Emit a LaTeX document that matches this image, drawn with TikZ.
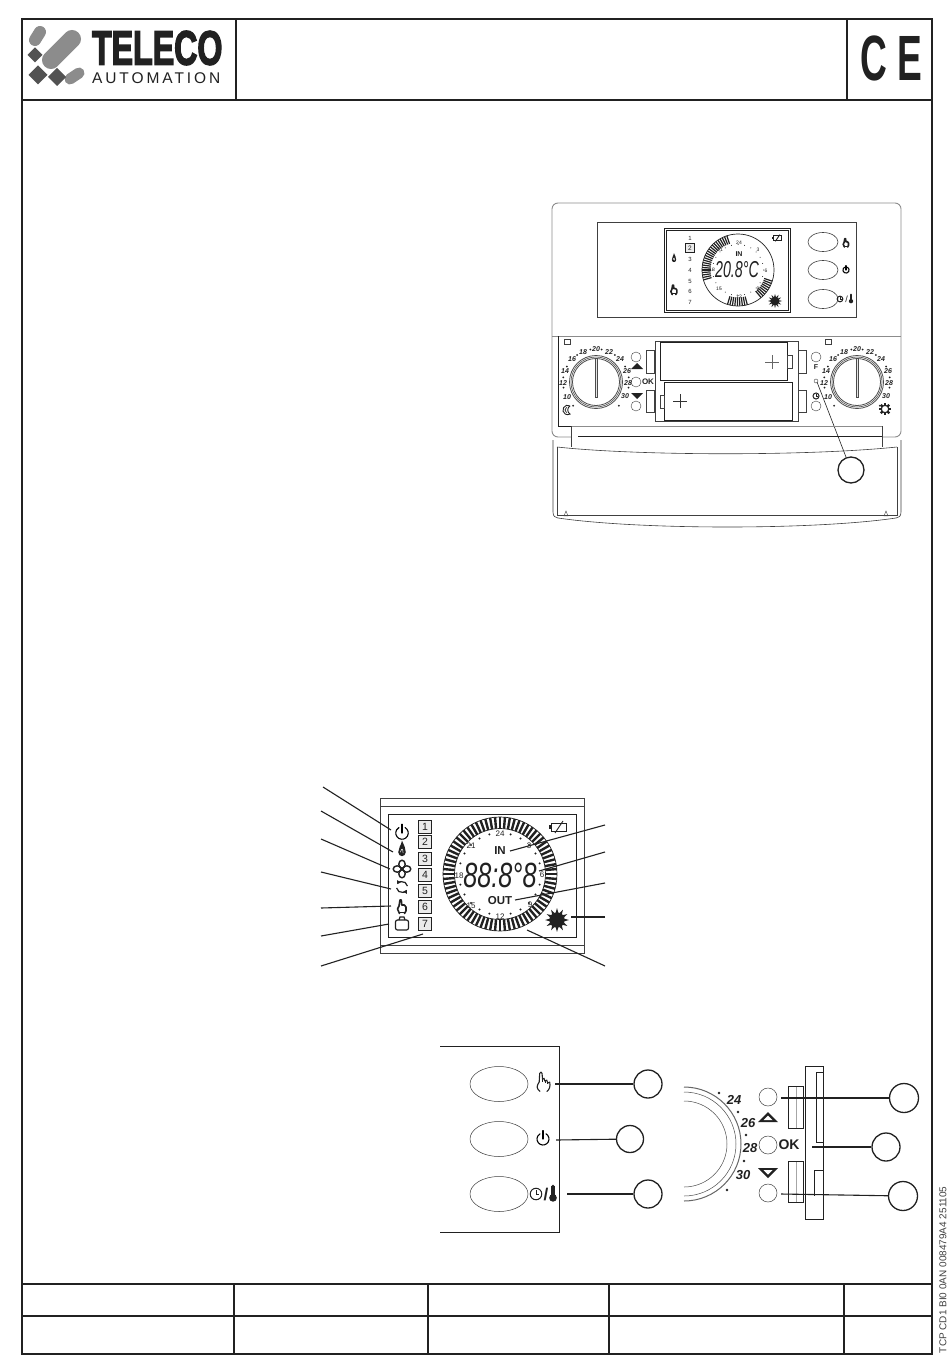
\documentclass[tikz,border=0pt]{standalone}
\usepackage{fontspec}
\usepackage{graphicx}
\usetikzlibrary{calc,arrows.meta}
\setmainfont{Liberation Sans}
\newfontfamily\logofont[FakeBold=3.5]{Liberation Sans Bold}
\newfontfamily\autofont[LetterSpace=19]{Liberation Sans}
\newfontfamily\cefont[LetterSpace=28]{Liberation Sans Bold}
\newcommand{\fsz}[1]{\fontsize{#1}{#1}\selectfont}
\definecolor{ink}{gray}{0.13}
\tikzset{
  framel/.style={line width=1.8pt,draw=ink},
  thinl/.style={line width=0.6pt,draw=black!75},
  paleline/.style={line width=0.9pt,draw=black!45},
  leader/.style={line width=1.1pt,draw=ink},
  callout/.style={circle,draw=ink,line width=1.3pt,inner sep=0pt,fill=white},
  txt/.style={inner sep=0pt,outer sep=0pt,text=ink},
  numbox/.style={rectangle,draw=ink,line width=1.4pt,fill=black!8,inner sep=0pt,minimum size=13.5pt,text=ink,font=\fsz{10.5}},
  pics/powericon/.style={code={
    \draw[line width=1.1pt,line cap=round,yscale=-1] (60:5) arc (60:-240:5);
    \draw[line width=1.1pt,line cap=round] (0,-7)--(0,0);}},
  pics/flameicon/.style={code={
    \fill[ink] (0,-8) .. controls (2,-3) and (3.6,-1) .. (3.6,3) .. controls (3.6,8) and (-3.6,8) .. (-3.6,3) .. controls (-3.6,-1) and (-1,-3) .. (0,-8);
    \draw[white,line width=.5pt] (-1.5,3)..controls (0,-2) and (1,0)..(1,4);}},
  pics/fanicon/.style={code={
    \foreach \a in {0,90,180,270}{\draw[ink,line width=1.4pt,rotate=\a] (4.8,0) ellipse (4 and 3.2);}
    \fill[ink] (0,0) circle (1.6);}},
  pics/cycleicon/.style={code={
    \draw[ink,line width=1.2pt,-{Triangle[length=3.5pt,width=4pt]},yscale=-1] (10:5.5) arc (10:150:5.5);
    \draw[ink,line width=1.2pt,-{Triangle[length=3.5pt,width=4pt]},yscale=-1] (190:5.5) arc (190:330:5.5);}},
  pics/handicon/.style={code={
    \draw[ink,line width=1.6pt,line join=round,line cap=round] (-2.5,6.5)--(-4.5,2)--(-3,-1)--(-2,-7)--(-.7,-7)--(-.2,-2)--(2.3,-2)--(4,0)--(4,4)--(2.5,6.5);
    \draw[ink,line width=1pt] (-3,5.5)--(3,5.5);}},
  pics/hugehand/.style={code={
    \draw[ink,line width=1.1pt,fill=white,line join=round] (-3,9) .. controls (-7,6) and (-7,3) .. (-4,-1) -- (-3.5,-10) .. controls (-2.5,-12) and (-1.5,-12) .. (-1,-10) -- (-.5,-4) -- (1,-5)--(2,-2) -- (4,-3) -- (5,0)-- (7,-1) .. controls (8,3) and (7,7) .. (4,9);
    \draw[ink,line width=.8pt] (-.5,-4)--(-.5,-1) (2,-2)--(2,0) (5,0)--(5,1.5);}},
  pics/poticon/.style={code={
    \draw[ink,line width=1.2pt,rounded corners=2pt] (-6.5,-4) rectangle (6.5,6);
    \draw[ink,line width=1.2pt] (-3,-4) -- (-2,-7) -- (2,-7) -- (3,-4);}},
  pics/batticon/.style={code={
    \draw[ink,line width=.9pt] (-7,-4) rectangle (8,4);
    \fill[ink] (-9.5,-2) rectangle (-7,2);
    \draw[ink,line width=.9pt] (-3,6) -- (5,-6);}},
  pics/sunicon/.style={code={
    \foreach \a in {0,30,...,330}{\fill[ink,rotate=\a] (8.5,-1.6) -- (14,0) -- (8.5,1.6) -- cycle;}
    \fill[ink] (0,0) circle (9);}},
  pics/clockicon/.style={code={
    \draw[ink,line width=1pt] (0,0) circle (5.5);
    \draw[ink,line width=.8pt] (0,-3.5)--(0,0)--(3,0);}},
  pics/thermoicon/.style={code={
    \fill[ink] (-1.5,-7) rectangle (1.5,2);
    \fill[ink] (0,-7) circle (1.5);
    \fill[ink] (0,3.5) circle (3.5);}},
  pics/moonicon/.style={code={
    \draw[ink,line width=.9pt] (4,-5.5) arc (-60:-300:6.3) .. controls (0,3) and (0,-3) .. (4,-5.5);
    \draw[ink,line width=.7pt] (-.5,-3.5) .. controls (-3.5,-1) and (-3.5,1) .. (-.5,3.5);}},
  pics/gearsun/.style={code={
    \foreach \a in {0,45,...,315}{\fill[ink,rotate=\a] (5,-1.5) rectangle (8,1.5);}
    \draw[ink,line width=1.2pt,fill=white] (0,0) circle (5);}},
  pics/dialface/.style={code={
    \foreach \a in {-46,-10,8,28,55,80,100,125,152,172,190,226}{\fill[ink,yscale=-1] (\a:33) circle (1);}
    \foreach \r/\w in {26.5/.8,25/.6,23.5/.8}{\draw[black!70,line width=\w pt] (0,0) circle (\r);}
    \draw[black!70,line width=.5pt,fill=black!10] (-1,-24) rectangle (1,15);}},
}
\begin{document}
\begin{tikzpicture}[x=1pt,y=-1pt]
\useasboundingbox (0,0) rectangle (950,1370);
\fill[white] (0,0) rectangle (950,1370);

% ---- sheet frame
\draw[framel] (22,19) rectangle (932,1354);
\draw[framel] (22,100) -- (932,100);
\draw[framel] (236,19) -- (236,100);
\draw[framel] (847,19) -- (847,100);
\draw[framel] (22,1284) -- (932,1284);
\draw[framel] (22,1316) -- (932,1316);
\foreach \x in {234,428,609,844}{\draw[framel] (\x,1284) -- (\x,1354);}

% ---- logo
\draw[black!45,line width=18pt,line cap=round] (51,60) -- (72,39);
\draw[black!45,line width=12pt,line cap=round] (40,32) -- (35,40);
\draw[black!45,line width=11pt,line cap=round] (70,79) -- (79,73);
\fill[black!68] (27.5,55) -- (35,47.5) -- (42.5,55) -- (35,62.5) -- cycle;
\fill[black!68] (28.5,75) -- (38,65.5) -- (47.5,75) -- (38,84.5) -- cycle;
\fill[black!68] (48,77) -- (57,68) -- (66,77) -- (57,86) -- cycle;
\node[txt,anchor=west,text=ink] (logoA) at (92,48) {\logofont\fsz{48}\scalebox{.67}[1]{TELECO}};
\node[txt,anchor=west] (logoB) at (92,78.5) {\autofont\fsz{15.5}AUTOMATION};
\node[txt,anchor=west] (ce) at (860,58.5) {\cefont\fsz{64}\scalebox{.58}[1]{CE}};

% ---- side reference
\node[txt,rotate=90,anchor=west,text=black!75] (ref) at (943,1353) {\fsz{10}TCP CD1 BI0 0AN 008479A4 251105};

% ---- device: upper body
\draw[paleline,rounded corners=6pt] (571,437) -- (552,437) -- (552,203) -- (901,203) -- (901,437) -- (882,437);
\draw[black!45,line width=.5pt] (552,336) -- (901,336);
\draw[thinl,line width=.5pt] (597,222) rectangle (856,317);
\draw[ink,line width=1pt] (664,228) rectangle (790,312);
\draw[ink,line width=.5pt] (666,230) rectangle (788,310);
\foreach \y in {242,270,299}{\draw[thinl] (823,\y) ellipse (15 and 9.5);}
\pic[scale=.62] at (846,243) {handicon};
\pic[scale=.62] at (846,270) {powericon};
\pic[scale=.52] at (840,299) {clockicon};
\node[txt] (slashT) at (846.5,299) {\fsz{9}/};
\pic[scale=.62] at (851,299) {thermoicon};

% top LCD
\foreach \n/\y in {1/238,3/259,4/270,5/281,6/291,7/302}{\node[txt] (tn\n) at (690,\y) {\fsz{6}\n};}
\node[numbox,minimum size=9pt,line width=1pt,font=\fsz{6.5}] (tn2) at (690,248) {2};
\pic[scale=.6] at (674,258) {flameicon};
\pic[scale=.7] at (674,290) {handicon};
\pic[scale=.55] at (777,238) {batticon};
\pic[scale=.5] at (775,301) {sunicon};
\draw[ink,line width=.7pt] (738,270) circle (36);
\begin{scope}[shift={(738,270)},yscale=-1]
\foreach \a in {108,112,...,196}{\draw[ink,line width=1.2pt] (\a:27.5) -- (\a:36);}
\foreach \a in {-107,-103,...,-73}{\draw[ink,line width=1.2pt] (\a:27.5) -- (\a:36);}
\foreach \a in {-50,-46,...,-17}{\draw[ink,line width=1.2pt] (\a:27.5) -- (\a:36);}
\foreach \a in {0,15,...,345}{\fill[ink] (\a:25.5) circle (.5);}
\end{scope}
\foreach \t/\x/\y in {24/739/243,3/758/250,6/766/271,9/758/289,12/739/297,15/719/289,18/712/270,21/720/250}{\node[txt] (tc\t) at (\x,\y) {\fsz{5}\t};}
\node[txt] (tin) at (739,254) {\bfseries\fsz{7}IN};
\node[txt] (ttemp) at (737,270) {\itshape\fsz{23}\scalebox{.62}[1]{20.8°C}};

% ---- device: dials and batteries
\draw[ink,line width=.8pt] (558,336) -- (558,426) -- (571,426);
\foreach \dx/\i in {0/l,261/r}{
  \pic at (596+\dx,382) {dialface};
  \foreach \t/\x/\y in {10/567/397,12/563/383,14/565/371,16/572/359,18/583/352,20/596/349,22/609/352,24/620/359,26/627/371,28/628/383,30/625/396}{
    \node[txt] (dn\i\t) at (\x+\dx,\y) {\bfseries\itshape\fsz{7}\t};}
  \draw[thinl] (564+\dx,339) rectangle (570+\dx,344);
}
\draw[thinl] (655,341) rectangle (798,421);
\draw[ink,line width=.7pt,fill=white] (660,342) rectangle (787,380);
\draw[ink,line width=.7pt,fill=white] (664,382) rectangle (792,420);
\foreach \x in {646,798}{
  \draw[thinl] (\x,350) rectangle (\x+8.5,373);
  \draw[thinl] (\x,390) rectangle (\x+8.5,412);}
\draw[thinl] (787,355) rectangle (792,368);
\draw[thinl] (660,395) rectangle (664,408);
\draw[black!60,line width=.4pt] (765,362) -- (779,362) (772,355) -- (772,369);
\draw[black!80,line width=.5pt] (673,401) -- (687,401) (680,394) -- (680,408);
\foreach \x/\y in {636/357,636/382,636/406,816/357,816/406}{\draw[thinl,line width=.4pt] (\x,\y) circle (5);}
\fill[ink] (631,369) -- (643,369) -- (637,363) -- cycle;
\fill[ink] (631,393) -- (643,393) -- (637,399) -- cycle;
\node[txt] (dok) at (648,382) {\bfseries\fsz{8}OK};
\node[txt] (df) at (816,367) {\bfseries\fsz{7}F};
\pic[scale=.55] at (816,396) {clockicon};
\pic[scale=.75] at (567,410) {moonicon};
\pic[scale=.75] at (885,409) {gearsun};

\node[callout,minimum width=23pt,minimum height=26pt,inner sep=0pt] (c0) at (851,470) {};
\draw[thinl,line width=.4pt] (816,381) circle (2);
\coordinate (c0s) at (817,382);
\draw[ink,line width=.6pt] (c0s) -- (c0);

% ---- device: cover
\draw[paleline] (571,426) -- (882,426);
\draw[thinl] (571,426) -- (571,447);
\draw[thinl] (882,426) -- (882,447);
\draw[ink,line width=.6pt] (578,436) -- (882,436);
\draw[thinl] (557,447) .. controls (640,456) and (810,456) .. (897,447);
\draw[thinl] (553,440) -- (553,512) .. controls (553,516) and (555,518) .. (558,518);
\draw[thinl] (557,447) -- (557,515) -- (897,515) -- (897,447);
\draw[thinl] (901,440) -- (901,512) .. controls (901,516) and (899,518) .. (896,518);
\draw[thinl] (558,518) .. controls (640,530) and (815,530) .. (896,518);
\draw[thinl,line width=.4pt] (564,516) -- (566,511) -- (568,516) -- cycle;
\draw[thinl,line width=.4pt] (884,516) -- (886,511) -- (888,516) -- cycle;

% ---- middle LCD
\draw[thinl,line width=.8pt] (380,798) rectangle (584,953);
\draw[thinl,line width=.8pt] (380,806) -- (584,806) (380,945) -- (584,945);
\draw[ink,line width=.8pt] (388,814) rectangle (576,937);
\foreach \n/\y in {1/827,2/842,3/859,4/875,5/891,6/907,7/924}{\node[numbox] (bx\n) at (425,\y) {\n};}
\pic[scale=1.25] at (402,833) {powericon};
\pic[scale=1.05] at (402,849) {flameicon};
\pic at (402,869) {fanicon};
\pic at (402,887) {cycleicon};
\pic at (402,907) {handicon};
\pic at (402,924) {poticon};
\pic at (558,827) {batticon};
\pic[scale=.85] at (557,920) {sunicon};
\begin{scope}[shift={(500,874)},yscale=-1]
\foreach \a in {0,5,...,355}{\draw[ink,line width=2.4pt] (\a:45.5) -- (\a:57);}
\draw[ink,line width=.7pt] (0,0) circle (57) (0,0) circle (45.5);
\foreach \a in {15,45,75,105,135,165,195,225,255,285,315,345,30,60,120,150,210,240,300,330}{\fill[ink] (\a:41) circle (1.1);}
\end{scope}
\foreach \t/\x/\y in {24/500/834,3/529/846,6/542/875,9/530/905,12/500/917,15/471/906,18/459/876,21/471/846}{\node[txt] (mc\t) at (\x,\y) {\fsz{8}\t};}
\node[txt] (min) at (500,851) {\bfseries\fsz{11.5}IN};
\node[txt] (mout) at (500,901) {\bfseries\fsz{11.5}OUT};
\node[txt] (mdig) at (500,875) {\itshape\fsz{35}\scalebox{.72}[1]{88:8°8}};

% leaders, left and right
\foreach \i/\ax/\ay/\bx/\by in {1/323/787/391/830,2/321/811/393/852,3/321/839/390/869,4/321/872/391/889,5/321/908/391/906,6/321/936/389/924,7/321/966/423/934,8/605/825/510/851,9/605/852/539/871,10/605/883/515/900,11/605/917/571/917,12/605/966/527/930}{
  \coordinate (la\i) at (\ax,\ay);
  \coordinate (lb\i) at (\bx,\by);
  \draw[leader] (la\i) -- (lb\i);
}

% ---- button panel
\draw[ink,line width=.8pt] (440,1046) -- (559,1046) -- (559,1232) -- (440,1232);
\foreach \y in {1084,1139,1194}{\draw[thinl,line width=.5pt] (499,\y) ellipse (29 and 17.5);}
\pic[scale=.95] at (543,1083) {hugehand};
\pic[scale=1.2] at (543,1139) {powericon};
\pic[scale=1.05] at (536,1194) {clockicon};
\node[txt] (slashB) at (546,1194) {\bfseries\fsz{17}/};
\pic[scale=1.1] at (553,1194) {thermoicon};
\node[callout,minimum size=28pt] (pc1) at (648,1084) {};
\node[callout,minimum size=27pt] (pc2) at (630,1139) {};
\node[callout,minimum size=28pt] (pc3) at (648,1194) {};
\coordinate (pb1) at (555,1084);
\coordinate (pb2) at (556,1140);
\coordinate (pb3) at (567,1194);
\draw[leader] (pb1) -- (pc1);
\draw[leader] (pb2) -- (pc2);
\draw[leader] (pb3) -- (pc3);

% ---- dial detail
\begin{scope}[shift={(684,1144)},yscale=-1]
\draw[black!60,line width=1pt] (90:57) arc (90:-90:57);
\draw[black!70,line width=.5pt] (90:52) arc (90:-90:52);
\draw[black!70,line width=.5pt] (90:43) arc (90:-90:43);
\end{scope}
\foreach \x/\y in {719/1093,738/1112,746/1135,744/1161,727/1190}{\fill[ink] (\x,\y) circle (1.3);}
\foreach \t/\x/\y in {24/734/1100,26/748/1123,28/750/1148,30/743/1175}{\node[txt] (ds\t) at (\x,\y) {\bfseries\itshape\fsz{13}\t};}
\foreach \y in {1097,1145,1193}{\draw[thinl,line width=.5pt] (768,\y) circle (9);}
\fill[ink] (758,1122) -- (778,1122) -- (768,1112) -- cycle;
\fill[white] (763.5,1120) -- (772.5,1120) -- (768,1115.5) -- cycle;
\fill[ink] (758,1168) -- (778,1168) -- (768,1178) -- cycle;
\fill[white] (763.5,1170) -- (772.5,1170) -- (768,1174.5) -- cycle;
\node[txt] (sok) at (789,1145) {\bfseries\fsz{14}OK};
\draw[black!35,line width=1pt] (796,1086) -- (796,1128) (796,1161) -- (796,1202);
\draw[ink,line width=.7pt] (788,1086) rectangle (803,1128);
\draw[ink,line width=.7pt] (788,1161) rectangle (803,1202);
\draw[ink,line width=.8pt] (805,1066) rectangle (823,1219);
\draw[ink,line width=.7pt] (823,1072) -- (816,1072) -- (816,1142) -- (823,1142);
\draw[ink,line width=.7pt] (823,1170) -- (814,1170) -- (814,1196);
\node[callout,minimum size=29pt] (dc1) at (904,1098) {};
\node[callout,minimum size=28pt] (dc2) at (886,1147) {};
\node[callout,minimum size=29pt] (dc3) at (903,1196) {};
\coordinate (db1) at (781,1098);
\coordinate (db2) at (812,1147);
\coordinate (db3) at (781,1194);
\draw[leader] (db1) -- (dc1);
\draw[leader] (db2) -- (dc2);
\draw[leader] (db3) -- (dc3);
\end{tikzpicture}
\end{document}
